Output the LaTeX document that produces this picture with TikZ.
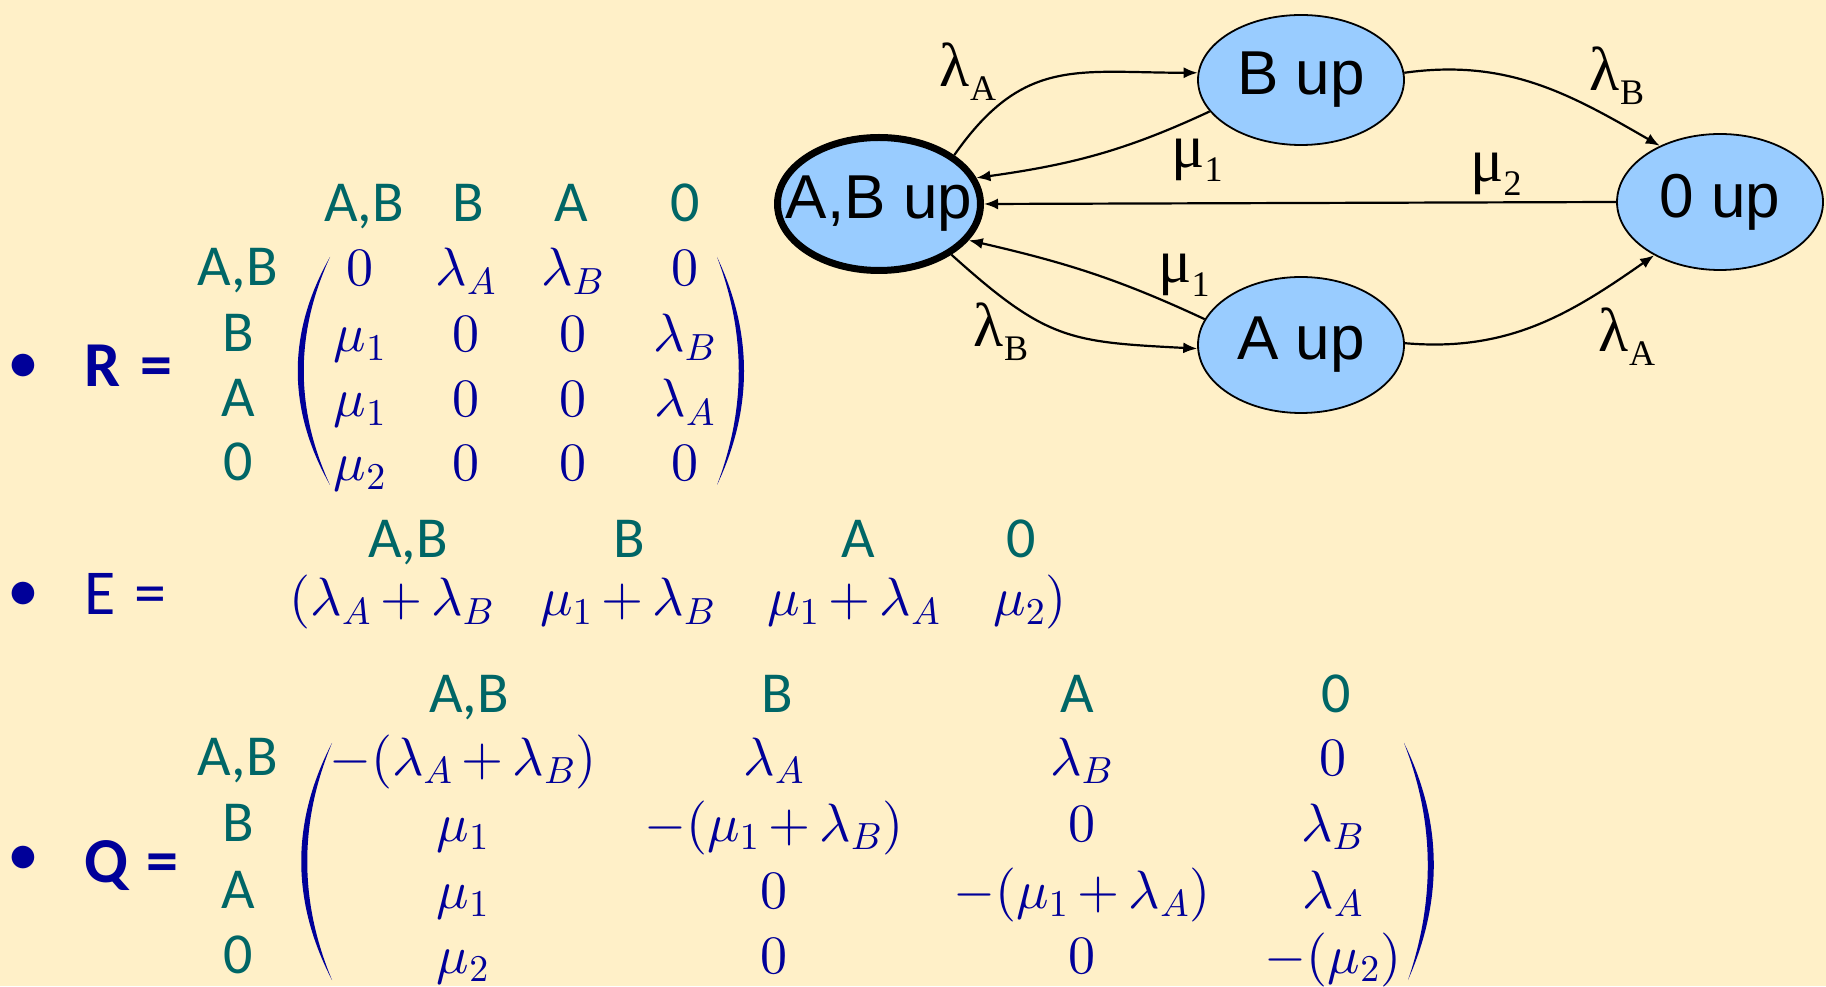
\documentclass[tikz,border=0pt]{standalone}
\usepackage[no-math]{fontspec}
\setmainfont{Carlito}
\newfontfamily\arialfont{Liberation Sans}
\newfontfamily\timesfont{Liberation Serif}
\DeclareFontShape{OML}{cmm}{m}{it}{<->cmmi10}{}
\DeclareFontShape{OMS}{cmsy}{m}{n}{<->cmsy10}{}
\DeclareFontShape{OT1}{cmr}{m}{n}{<->cmr10}{}
\medmuskip=3mu
\usetikzlibrary{arrows.meta,shapes.geometric}
\definecolor{slidebg}{RGB}{255,240,200}
\definecolor{navy}{RGB}{0,0,153}
\definecolor{hdrteal}{RGB}{0,102,102}
\definecolor{upfill}{RGB}{153,204,255}
\newcommand\rsub[1]{\raisebox{-7pt}{\fontsize{18}{20}\selectfont #1}}

\begin{document}
\begin{tikzpicture}[x=0.5pt,y=0.5pt,
  upnode/.style={ellipse,draw,fill=upfill,line width=0.9pt,inner sep=0pt,
    minimum width=103pt,minimum height=68pt,font=\arialfont\fontsize{31}{36}\selectfont},
  fullnode/.style={upnode,line width=3.5pt,minimum width=101.5pt,minimum height=66.5pt},
  rate/.style={inner sep=0pt,font=\timesfont\fontsize{31}{36}\selectfont},
  hdr/.style={anchor=base,inner sep=0pt,text=hdrteal,font=\fontsize{29}{34}\selectfont},
  ent/.style={anchor=base,inner sep=0pt,text=navy,font=\fontsize{27}{32}\selectfont},
  lead/.style={anchor=base west,inner sep=0pt,text=navy,font=\fontsize{32}{38}\selectfont},
  dot/.style={inner sep=0pt,text=navy,font=\fontsize{32}{38}\selectfont},
  >={Latex[length=7pt,width=5.5pt]}, every edge/.style={draw,->,line width=1.1pt}]
  \useasboundingbox (0,0) rectangle (1826,986);
  \fill[slidebg] (0,0) rectangle (1826,986);

  % state graph
  \node[fullnode] (ab) at (879,782) {\makebox[0pt]{A,B up}};
  \node[upnode,minimum height=65pt] (b) at (1301,906) {\makebox[0pt]{B up}};
  \node[upnode] (a) at (1301,641) {\makebox[0pt]{A up}};
  \node[upnode] (z) at (1720,784) {\makebox[0pt]{0 up}};
  \draw (ab.33) edge[out=55,in=180,looseness=1.2] (b.176);
  \draw (b.199) edge[out=205,in=8] (ab.15);
  \draw (z.west) edge (ab.east);
  \draw (a.165) edge[out=155,in=-13] (ab.-22);
  \draw (ab.-35) edge[out=-42,in=177,looseness=1.25] (a.182);
  \draw (b.4) edge[out=8,in=150] (z.137);
  \draw (a.1) edge[out=-5,in=215] (z.219);
  \node[rate] (la1) at (968,914) {λ\rsub{A}};
  \node[rate] (mu1) at (1197,826) {μ\rsub{1}};
  \node[rate] (mu2) at (1496,812) {μ\rsub{2}};
  \node[rate] (mu3) at (1184,711) {μ\rsub{1}};
  \node[rate] (lb1) at (1001,654) {λ\rsub{B}};
  \node[rate] (lb2) at (1617,910) {λ\rsub{B}};
  \node[rate] (la2) at (1627,649) {λ\rsub{A}};

  % R
  \node[dot] (bR) at (23,617) {•};
  \node[lead] (R) at (84,599) {\bfseries R\hspace{3pt} =};
  \foreach \t/\x in {{A,B}/364,B/468,A/571,0/685}
    \node[hdr] at (\x,764) {\t};
  \foreach \t/\y [count=\i] in {{A,B}/700,B/634,A/569,0/505}
    \node[hdr] (rr\i) at (238,\y) {\t};
  \foreach \y/\ea/\eb/\ec/\ed [count=\i] in {700/0/\lambda_A/\lambda_B/0,
      634/\mu_1/0/0/\lambda_B, 569/\mu_1/0/0/\lambda_A, 505/\mu_2/0/0/0}{
    \node[ent] (r\i-1) at (360,\y) {$\ea$};
    \node[ent] (r\i-2) at (466,\y) {$\eb$};
    \node[ent] (r\i-3) at (573,\y) {$\ec$};
    \node[ent] (r\i-4) at (685,\y) {$\ed$};
  }
  \fill[navy] (330,729) .. controls (287,653) and (287,577) .. (330,501)
    .. controls (295,577) and (295,653) .. cycle;
  \fill[navy] (717,729) .. controls (753,653) and (753,577) .. (717,501)
    .. controls (746,577) and (746,653) .. cycle;

  % E
  \node[dot] (bE) at (23,389) {•};
  \node[lead] (E) at (84,371) {E\hspace{2pt} =};
  \foreach \t/\x in {{A,B}/408,B/629,A/858,0/1021}
    \node[hdr] at (\x,428) {\t};
  \node[ent] (e1) at (392,370) {$(\lambda_A+\lambda_B$};
  \node[ent] (e2) at (628,370) {$\mu_1+\lambda_B$};
  \node[ent] (e3) at (854,370) {$\mu_1+\lambda_A$};
  \node[ent] (e4) at (1030,370) {$\mu_2)$};

  % Q
  \node[dot] (bQ) at (23,125) {•};
  \node[lead] (Q) at (84,104) {\bfseries Q\hspace{2pt} =};
  \foreach \t/\x in {{A,B}/469,B/777,A/1077,0/1336}
    \node[hdr] at (\x,273) {\t};
  \foreach \t/\y [count=\i] in {{A,B}/211,B/145,A/78,0/13}
    \node[hdr] (qr\i) at (238,\y) {\t};
  \foreach \y/\ea/\eb/\ec/\ed [count=\i] in {
      211/-(\lambda_A+\lambda_B)/\lambda_A/\lambda_B/0,
      145/\mu_1/-(\mu_1+\lambda_B)/0/\lambda_B,
      78/\mu_1/0/-(\mu_1+\lambda_A)/\lambda_A,
      13/\mu_2/0/0/-(\mu_2)}{
    \node[ent] (q\i-1) at (463,\y) {$\ea$};
    \node[ent] (q\i-2) at (774,\y) {$\eb$};
    \node[ent] (q\i-3) at (1082,\y) {$\ec$};
    \node[ent] (q\i-4) at (1333,\y) {$\ed$};
  }
  \fill[navy] (332,243) .. controls (291,164) and (291,85) .. (332,6)
    .. controls (299,85) and (299,164) .. cycle;
  \fill[navy] (1404,243) .. controls (1443,164) and (1443,85) .. (1408,6)
    .. controls (1435,85) and (1435,164) .. cycle;
\end{tikzpicture}
\end{document}
